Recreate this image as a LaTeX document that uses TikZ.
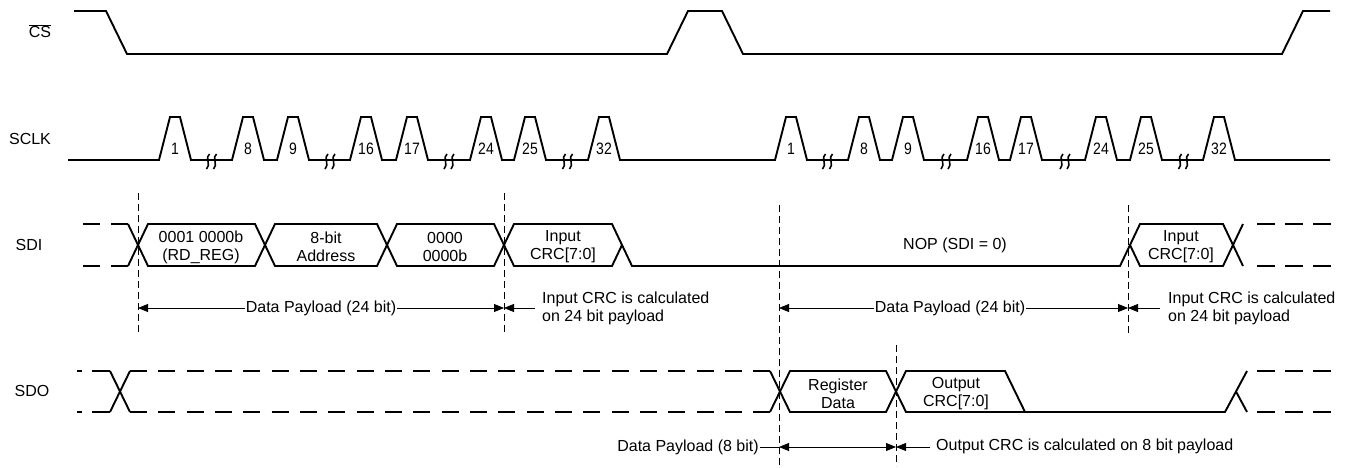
\documentclass[tikz,border=0pt]{standalone}
\usepackage{fontspec}
\setmainfont{Liberation Sans}
\usetikzlibrary{arrows.meta}
\begin{document}
\begin{tikzpicture}[x=1pt,y=-1pt,
  wave/.style={line width=1.9pt},
  wdashA/.style={wave, dash pattern=on 17pt off 11pt},
  wdashB/.style={wave, dash pattern=on 17pt off 11.33pt},
  wdashC/.style={wave, dash pattern=on 18pt off 10pt},
  guide/.style={line width=0.8pt, dash pattern=on 7pt off 4pt},
  dim/.style={line width=0.8pt},
  tipr/.style={-{Triangle[length=10pt,width=8pt]}},
  tipb/.style={{Triangle[length=10pt,width=8pt]}-{Triangle[length=10pt,width=8pt]}},
  lbl/.style={font=\fontsize{16}{18}\selectfont, inner sep=1pt, align=center},
  num/.style={font=\fontsize{16.5}{18}\selectfont, inner sep=0pt},
  squig/.style={line width=1.6pt}
]
\useasboundingbox (0,0) rectangle (1355,468);

% signal names
\node[lbl] (cs) at (40,31) {$\overline{\mbox{CS}}$};
\node[lbl] (sclk) at (30,139) {SCLK};
\node[lbl] (sdi) at (29,245) {SDI};
\node[lbl] (sdo) at (32,391) {SDO};

% CS
\draw[wave] (74,11) -- (106,11) -- (127,54) -- (667,54) -- (688,11) -- (722,11)
  -- (743,54) -- (1282,54) -- (1303,11) -- (1330,11);

% SCLK
\draw[wave] (68,160)
  \foreach \s in {159,232,277,350,396,470,514,588,775,848,892,967,1010,1085,1130,1203}
  { -- (\s,160) -- (\s+11,117) -- (\s+21,117) -- (\s+32,160) } -- (1330,160);
\foreach \s/\n in {159/1,232/8,277/9,350/16,396/17,470/24,514/25,588/32}
  \node[num] (pa\n) at (\s+16,149) {\scalebox{0.85}[1]{\n}};
\foreach \s/\n in {775/1,848/8,892/9,967/16,1010/17,1085/24,1130/25,1203/32}
  \node[num] (pb\n) at (\s+16,149) {\scalebox{0.85}[1]{\n}};
\foreach \m in {211.5,330,449,567.5,827.5,946,1065,1183.5}
{
  \draw[squig] (\m-2,154) .. controls (\m-7,157) and (\m,165) .. (\m-5,169);
  \draw[squig] (\m+5,154) .. controls (\m,157) and (\m+7,165) .. (\m+2,169);
}

% SDI
\draw[wdashA] (128,224) -- (82,224);
\draw[wdashA] (128,266) -- (82,266);
\draw[wave] (128,224) -- (148,266) -- (255,266) -- (275,224) -- (377,224) -- (397,266)
  -- (494,266) -- (514,224) -- (612,224) -- (632,266) -- (1120,266) -- (1140,224)
  -- (1223,224) -- (1243,266);
\draw[wave] (128,266) -- (148,224) -- (255,224) -- (275,266) -- (377,266) -- (397,224)
  -- (494,224) -- (514,266) -- (612,266) -- (622,245);
\draw[wave] (1130,245) -- (1140,266) -- (1223,266) -- (1243,224);
\draw[wdashC] (1257,224) -- (1331,224);
\draw[wdashC] (1257,266) -- (1331,266);

\node[lbl] (b1) at (201,247) {0001 0000b\\(RD\_REG)};
\node[lbl] (b2) at (326,247) {8-bit\\Address};
\node[lbl] (b3) at (445,247) {0000\\0000b};
\node[lbl] (b4) at (563,247) {Input\\CRC[7:0]};
\node[lbl] (nop) at (955,245) {NOP (SDI = 0)};
\node[lbl] (b5) at (1181,247) {Input\\CRC[7:0]};

% SDO
\draw[wdashC] (110,371) -- (77,371);
\draw[wdashC] (110,412) -- (77,412);
\draw[wave] (110,371) -- (130,412);
\draw[wave] (110,412) -- (130,371);
\draw[wdashB] (130,371) -- (770,371);
\draw[wdashB] (130,412) -- (770,412);
\draw[wave] (770,371) -- (790,412) -- (886,412) -- (906,371) -- (1005,371) -- (1025,412)
  -- (1225,412) -- (1247,371);
\draw[wave] (770,412) -- (790,371) -- (886,371) -- (906,412) -- (1025,412);
\draw[wave] (1236,391.5) -- (1247,412);
\draw[wdashC] (1257,371) -- (1331,371);
\draw[wdashC] (1257,412) -- (1331,412);

\node[lbl] (r1) at (838,394) {Register\\Data};
\node[lbl] (r2) at (956,394) {Output\\CRC[7:0]};

% guide lines
\coordinate (g1t) at (138,193); \coordinate (g1b) at (138,333);
\coordinate (g2t) at (504,193); \coordinate (g2b) at (504,333);
\coordinate (g3t) at (779,205); \coordinate (g3b) at (779,466);
\coordinate (g4t) at (1128,205); \coordinate (g4b) at (1128,333);
\coordinate (g5t) at (896,345); \coordinate (g5b) at (896,466);
\draw[guide] (g1t) -- (g1b);
\draw[guide] (g2t) -- (g2b);
\draw[guide] (g3t) -- (g3b);
\draw[guide] (g4t) -- (g4b);
\draw[guide] (g5t) -- (g5b);

% dimensions SDI
\coordinate (a1) at (138,308); \coordinate (a2) at (504,308);
\coordinate (c1) at (535,308);
\node[lbl] (dp1) at (321,308) {Data Payload (24 bit)};
\draw[dim,tipr] (dp1.west) -- (a1);
\draw[dim,tipr] (dp1.east) -- (a2);
\draw[dim,tipr] (c1) -- (a2);
\node[lbl,anchor=west,align=left] (ic1) at (541,308) {Input CRC is calculated\\on 24 bit payload};

\coordinate (a3) at (779,308); \coordinate (a4) at (1128,308);
\coordinate (c2) at (1160,308);
\node[lbl] (dp2) at (950,308) {Data Payload (24 bit)};
\draw[dim,tipr] (dp2.west) -- (a3);
\draw[dim,tipr] (dp2.east) -- (a4);
\draw[dim,tipr] (c2) -- (a4);
\node[lbl,anchor=west,align=left] (ic2) at (1167,308) {Input CRC is calculated\\on 24 bit payload};

% dimensions SDO
\coordinate (a5) at (779,447); \coordinate (a6) at (896,447);
\coordinate (c3) at (930,447);
\node[lbl] (dp3) at (688,447) {Data Payload (8 bit)};
\draw[dim] (dp3.east) -- (a5);
\draw[dim,tipb] (a5) -- (a6);
\draw[dim,tipr] (c3) -- (a6);
\node[lbl,anchor=west] (oc) at (935,446) {Output CRC is calculated on 8 bit payload};
\end{tikzpicture}
\end{document}
